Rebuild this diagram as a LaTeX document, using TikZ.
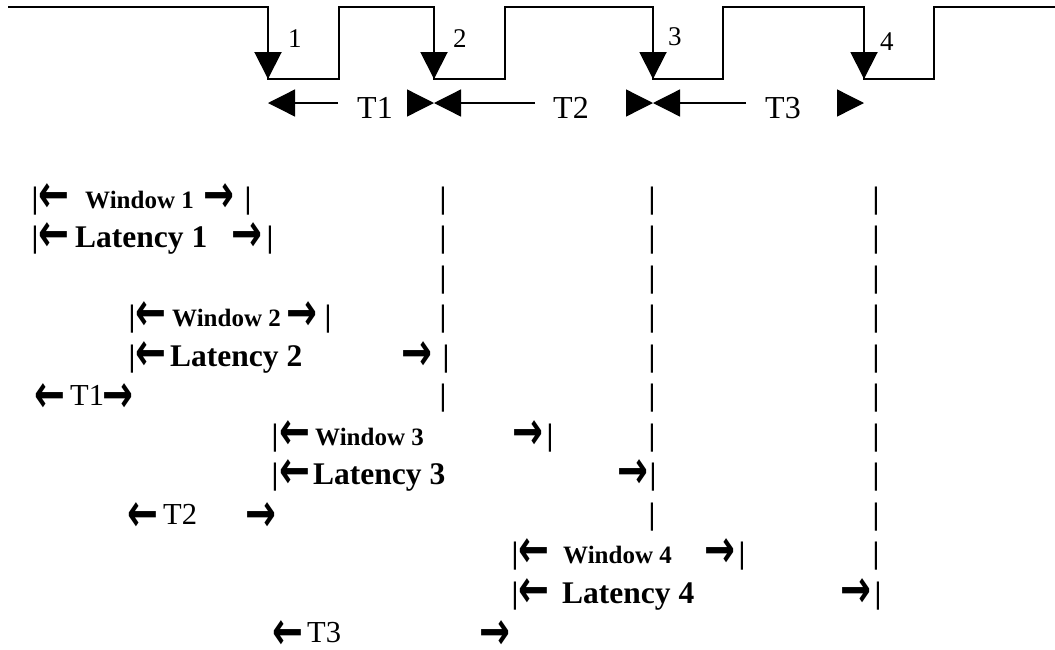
\documentclass[tikz,border=0pt]{standalone}
\usepackage{fontspec}
\usepackage{graphicx}
\setmainfont{Liberation Serif}
\newfontfamily\arrowfont{DejaVu Sans}
\usetikzlibrary{arrows.meta}
\newcommand{\la}{\smash{\scalebox{1.42}[2.06]{←}}}
\newcommand{\ra}{\smash{\scalebox{1.42}[2.06]{→}}}
\tikzset{
 wave/.style={line width=2pt},
 fall/.style={line width=2pt,-{Triangle[length=27pt,width=27pt]}},
 tarr/.style={line width=1.3pt,-{Triangle[length=27pt,width=27pt]}},
 num/.style={font=\fontsize{27}{32}\selectfont,inner sep=0pt,anchor=base west},
 tlab/.style={font=\fontsize{32}{38}\selectfont,inner sep=0pt,anchor=base west},
 wtxt/.style={font=\fontsize{25}{30}\selectfont\bfseries,inner sep=0pt,anchor=base west},
 ltxt/.style={font=\fontsize{31.5}{37}\selectfont\bfseries,inner sep=0pt,anchor=base west},
 ttxt/.style={font=\fontsize{30.5}{36}\selectfont,inner sep=0pt,anchor=base west},
 bar/.style={font=\fontsize{31}{37}\selectfont\bfseries,inner sep=0pt,anchor=base},
 ar/.style={font=\fontsize{26}{30}\selectfont\arrowfont\bfseries,inner sep=0pt,anchor=base,yshift=-4pt},
 tar/.style={ar,yshift=-3pt}}

\begin{document}
\begin{tikzpicture}[x=1pt,y=-1pt]
 \useasboundingbox (0,0) rectangle (1055,649);
 \coordinate (w0) at (8,7);
 \coordinate (w9) at (1055,7);
 \foreach \i/\xf/\xr in {1/268/339,2/434/505,3/653/723,4/864/934}{
  \coordinate (h\i) at (\xf,7);
  \coordinate (l\i) at (\xf,79);
  \coordinate (r\i) at (\xr,7);
  \coordinate (a\i) at (\xf,103);
 }
 \draw[wave] (w0) -| (l1) -| (r1) -| (l2) -| (r2) -| (l3) -| (r3) -| (l4) -| (r4) -- (w9);
 \foreach \i in {1,...,4} \draw[fall] (h\i) -- (l\i);
 \node[num] (n1) at (288,47) {1};
 \node[num] (n2) at (453,47) {2};
 \node[num] (n3) at (668,45) {3};
 \node[num] (n4) at (880,50) {4};

 \coordinate (g1l) at (338,103); \coordinate (g1r) at (407,103);
 \coordinate (g2l) at (535,103); \coordinate (g2r) at (629,103);
 \coordinate (g3l) at (746,103); \coordinate (g3r) at (840,103);
 \draw[tarr] (g1l) -- (a1); \draw[tarr] (g1r) -- (a2);
 \draw[tarr] (g2l) -- (a2); \draw[tarr] (g2r) -- (a3);
 \draw[tarr] (g3l) -- (a3); \draw[tarr] (g3r) -- (a4);
 \node[tlab] (T1) at (357,118) {T1};
 \node[tlab] (T2) at (553,118) {T2};
 \node[tlab] (T3) at (765,118) {T3};

 \node[bar] (b1a) at (35,208) {|};
 \node[ar] (w1l) at (54,208) {\la};
 \node[wtxt] (w1) at (85,208) {Window 1};
 \node[ar] (w1r) at (218.5,208) {\ra};
 \node[bar] (b1b) at (248,208) {|};

 \node[bar] (b2a) at (35,247.5) {|};
 \node[ar] (l1l) at (53.5,247.5) {\la};
 \node[ltxt] (l1) at (75,247.5) {Latency 1};
 \node[ar] (l1r) at (247,247.5) {\ra};
 \node[bar] (b2b) at (270,247.5) {|};

 \node[bar] (b4a) at (132,326.5) {|};
 \node[ar] (w2l) at (151,326.5) {\la};
 \node[wtxt] (w2) at (172,326.5) {Window 2};
 \node[ar] (w2r) at (302,326.5) {\ra};
 \node[bar] (b4b) at (328,326.5) {|};

 \node[bar] (b5a) at (132,366) {|};
 \node[ar] (l2l) at (151,366) {\la};
 \node[ltxt] (l2) at (170,366) {Latency 2};
 \node[ar] (l2r) at (417,366) {\ra};
 \node[bar] (b5b) at (446,366) {|};

 \node[tar] (t1l) at (50,405.5) {\la};
 \node[ttxt] (t1) at (70,405.5) {T1};
 \node[tar] (t1r) at (118,405.5) {\ra};

 \node[bar] (b7a) at (275,445) {|};
 \node[ar] (w3l) at (295,445) {\la};
 \node[wtxt] (w3) at (315,445) {Window 3};
 \node[ar] (w3r) at (528,445) {\ra};
 \node[bar] (b7b) at (550,445) {|};

 \node[bar] (b8a) at (275,484.5) {|};
 \node[ar] (l3l) at (295,484.5) {\la};
 \node[ltxt] (l3) at (313,484.5) {Latency 3};
 \node[ar] (l3r) at (633,484.5) {\ra};
 \node[bar] (b8b) at (653,484.5) {|};

 \node[tar] (t2l) at (143,524) {\la};
 \node[ttxt] (t2) at (163,524) {T2};
 \node[tar] (t2r) at (261,524) {\ra};

 \node[bar] (b10a) at (515,563.5) {|};
 \node[ar] (w4l) at (534,563.5) {\la};
 \node[wtxt] (w4) at (563,563.5) {Window 4};
 \node[ar] (w4r) at (720,563.5) {\ra};
 \node[bar] (b10b) at (742,563.5) {|};

 \node[bar] (b11a) at (515,603) {|};
 \node[ar] (l4l) at (534,603) {\la};
 \node[ltxt] (l4) at (562,603) {Latency 4};
 \node[ar] (l4r) at (856,603) {\ra};
 \node[bar] (b11b) at (878,603) {|};

 \node[tar] (t3l) at (288,642.5) {\la};
 \node[ttxt] (t3) at (307,642.5) {T3};
 \node[tar] (t3r) at (495,642.5) {\ra};

 \foreach \r in {1,2,3,4,6} \node[bar] (ga\r) at (443,{208+39.5*(\r-1)}) {|};
 \foreach \r in {1,...,7,9} \node[bar] (gb\r) at (652,{208+39.5*(\r-1)}) {|};
 \foreach \r in {1,...,10} \node[bar] (gc\r) at (876,{208+39.5*(\r-1)}) {|};
\end{tikzpicture}
\end{document}
